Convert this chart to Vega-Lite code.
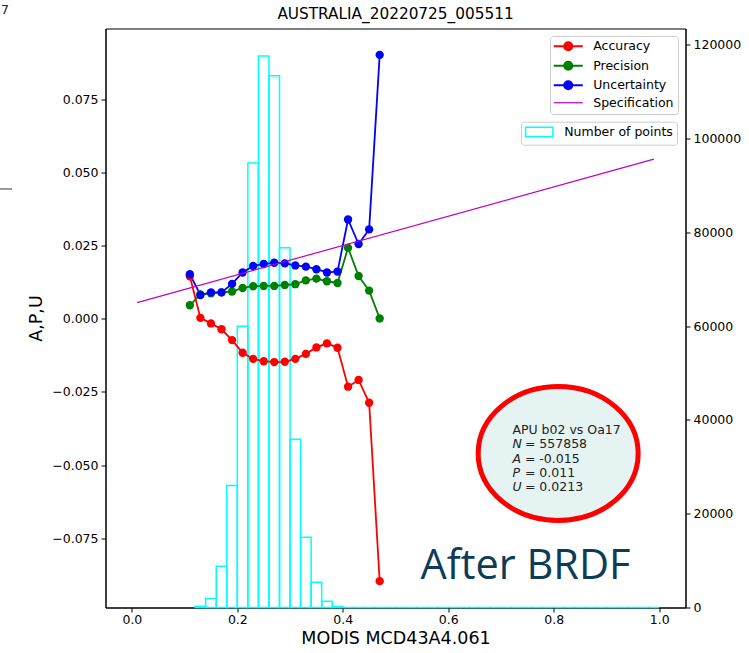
{
  "$schema": "https://vega.github.io/schema/vega-lite/v6.json",
  "width": 580,
  "height": 579,
  "autosize": {"type": "none"},
  "padding": {"left": 105.5, "top": 28.5, "right": 63.5, "bottom": 45.5},
  "background": "white",
  "title": {"text": "AUSTRALIA_20220725_005511", "fontSize": 15.3, "fontWeight": "normal", "font": "DejaVu Sans", "color": "black", "offset": -18, "anchor": "middle"},
  "config": {
    "font": "DejaVu Sans",
    "view": {"stroke": "black", "strokeWidth": 1},
    "axis": {"grid": false, "labelFontSize": 12.5, "labelColor": "black", "tickColor": "black", "domainColor": "black", "tickSize": 4.5, "labelPadding": 3, "titleFontSize": 17.5, "titleFontWeight": "normal", "titleColor": "black", "labelFont": "DejaVu Sans", "titleFont": "DejaVu Sans", "labelFlush": false, "labelOverlap": false},
    "legend": {"labelFontSize": 12.5, "labelFont": "DejaVu Sans", "labelColor": "black", "padding": 4, "fillColor": "white", "strokeColor": "#cccccc", "cornerRadius": 3, "rowPadding": 2.5, "labelOffset": 18.7, "symbolOffset": 8}
  },
  "datasets": {
    "series": [
      {"x": 0.11, "series": "Accuracy", "v": 0.0145},
      {"x": 0.13, "series": "Accuracy", "v": 0.0003},
      {"x": 0.15, "series": "Accuracy", "v": -0.0016},
      {"x": 0.17, "series": "Accuracy", "v": -0.0036},
      {"x": 0.19, "series": "Accuracy", "v": -0.0073},
      {"x": 0.21, "series": "Accuracy", "v": -0.0116},
      {"x": 0.23, "series": "Accuracy", "v": -0.0137},
      {"x": 0.25, "series": "Accuracy", "v": -0.0145},
      {"x": 0.27, "series": "Accuracy", "v": -0.0148},
      {"x": 0.29, "series": "Accuracy", "v": -0.0147},
      {"x": 0.31, "series": "Accuracy", "v": -0.0137},
      {"x": 0.33, "series": "Accuracy", "v": -0.0120},
      {"x": 0.35, "series": "Accuracy", "v": -0.0098},
      {"x": 0.37, "series": "Accuracy", "v": -0.0084},
      {"x": 0.39, "series": "Accuracy", "v": -0.0099},
      {"x": 0.41, "series": "Accuracy", "v": -0.0232},
      {"x": 0.43, "series": "Accuracy", "v": -0.0209},
      {"x": 0.45, "series": "Accuracy", "v": -0.0287},
      {"x": 0.47, "series": "Accuracy", "v": -0.0896},
      {"x": 0.11, "series": "Precision", "v": 0.0046},
      {"x": 0.13, "series": "Precision", "v": 0.0083},
      {"x": 0.15, "series": "Precision", "v": 0.0087},
      {"x": 0.17, "series": "Precision", "v": 0.0090},
      {"x": 0.19, "series": "Precision", "v": 0.0093},
      {"x": 0.21, "series": "Precision", "v": 0.0105},
      {"x": 0.23, "series": "Precision", "v": 0.0111},
      {"x": 0.25, "series": "Precision", "v": 0.0112},
      {"x": 0.27, "series": "Precision", "v": 0.0112},
      {"x": 0.29, "series": "Precision", "v": 0.0115},
      {"x": 0.31, "series": "Precision", "v": 0.0118},
      {"x": 0.33, "series": "Precision", "v": 0.0131},
      {"x": 0.35, "series": "Precision", "v": 0.0137},
      {"x": 0.37, "series": "Precision", "v": 0.0128},
      {"x": 0.39, "series": "Precision", "v": 0.0122},
      {"x": 0.41, "series": "Precision", "v": 0.0242},
      {"x": 0.43, "series": "Precision", "v": 0.0146},
      {"x": 0.45, "series": "Precision", "v": 0.0096},
      {"x": 0.47, "series": "Precision", "v": 0.0001},
      {"x": 0.11, "series": "Uncertainty", "v": 0.0152},
      {"x": 0.13, "series": "Uncertainty", "v": 0.0081},
      {"x": 0.15, "series": "Uncertainty", "v": 0.0090},
      {"x": 0.17, "series": "Uncertainty", "v": 0.0090},
      {"x": 0.19, "series": "Uncertainty", "v": 0.0119},
      {"x": 0.21, "series": "Uncertainty", "v": 0.0158},
      {"x": 0.23, "series": "Uncertainty", "v": 0.0180},
      {"x": 0.25, "series": "Uncertainty", "v": 0.0187},
      {"x": 0.27, "series": "Uncertainty", "v": 0.0191},
      {"x": 0.29, "series": "Uncertainty", "v": 0.0189},
      {"x": 0.31, "series": "Uncertainty", "v": 0.0182},
      {"x": 0.33, "series": "Uncertainty", "v": 0.0178},
      {"x": 0.35, "series": "Uncertainty", "v": 0.0169},
      {"x": 0.37, "series": "Uncertainty", "v": 0.0158},
      {"x": 0.39, "series": "Uncertainty", "v": 0.0161},
      {"x": 0.41, "series": "Uncertainty", "v": 0.0339},
      {"x": 0.43, "series": "Uncertainty", "v": 0.0255},
      {"x": 0.45, "series": "Uncertainty", "v": 0.0305},
      {"x": 0.47, "series": "Uncertainty", "v": 0.0901}
    ],
    "spec": [
      {"x": 0.01, "v": 0.0055},
      {"x": 0.99, "v": 0.0545}
    ],
    "hist": [
      {"x": 0.12, "x2": 0.14, "count": 250},
      {"x": 0.14, "x2": 0.16, "count": 1900},
      {"x": 0.16, "x2": 0.18, "count": 8800},
      {"x": 0.18, "x2": 0.20, "count": 26000},
      {"x": 0.20, "x2": 0.22, "count": 60000},
      {"x": 0.22, "x2": 0.24, "count": 94800},
      {"x": 0.24, "x2": 0.26, "count": 117600},
      {"x": 0.26, "x2": 0.28, "count": 113400},
      {"x": 0.28, "x2": 0.30, "count": 76700},
      {"x": 0.30, "x2": 0.32, "count": 35900},
      {"x": 0.32, "x2": 0.34, "count": 15000},
      {"x": 0.34, "x2": 0.36, "count": 5400},
      {"x": 0.36, "x2": 0.38, "count": 1350},
      {"x": 0.38, "x2": 0.40, "count": 200},
      {"x": 0.40, "x2": 0.42, "count": 0},
      {"x": 0.42, "x2": 0.44, "count": 0},
      {"x": 0.44, "x2": 0.46, "count": 0},
      {"x": 0.46, "x2": 0.48, "count": 0},
      {"x": 0.48, "x2": 0.50, "count": 0},
      {"x": 0.50, "x2": 0.52, "count": 0},
      {"x": 0.52, "x2": 0.54, "count": 0},
      {"x": 0.54, "x2": 0.56, "count": 0},
      {"x": 0.56, "x2": 0.58, "count": 0},
      {"x": 0.58, "x2": 0.60, "count": 0},
      {"x": 0.60, "x2": 0.62, "count": 0},
      {"x": 0.62, "x2": 0.64, "count": 0},
      {"x": 0.64, "x2": 0.66, "count": 0},
      {"x": 0.66, "x2": 0.68, "count": 0},
      {"x": 0.68, "x2": 0.70, "count": 0},
      {"x": 0.70, "x2": 0.72, "count": 0},
      {"x": 0.72, "x2": 0.74, "count": 0},
      {"x": 0.74, "x2": 0.76, "count": 0},
      {"x": 0.76, "x2": 0.78, "count": 0},
      {"x": 0.78, "x2": 0.80, "count": 0},
      {"x": 0.80, "x2": 0.82, "count": 0},
      {"x": 0.82, "x2": 0.84, "count": 0},
      {"x": 0.84, "x2": 0.86, "count": 0},
      {"x": 0.86, "x2": 0.88, "count": 0},
      {"x": 0.88, "x2": 0.90, "count": 0},
      {"x": 0.90, "x2": 0.92, "count": 0},
      {"x": 0.92, "x2": 0.94, "count": 0},
      {"x": 0.94, "x2": 0.96, "count": 0},
      {"x": 0.96, "x2": 0.98, "count": 0},
      {"x": 0.98, "x2": 1.00, "count": 0}
    ],
    "ellipse": [{"x": 0.8085, "v": -0.046}],
    "note": [{"x": 0.7217, "v": -0.0380}],
    "brdf": [{"x": 0.5473, "v": -0.0887}],
    "corner": [{"x": -0.2332, "v": 0.1054}],
    "tick": [{"x": -0.2502, "x2": -0.2275, "v": 0.0443}]
  },
  "encoding": {
    "x": {
      "field": "x", "type": "quantitative",
      "scale": {"domain": [-0.05, 1.05], "nice": false, "zero": false},
      "axis": {"title": "MODIS MCD43A4.061", "values": [0, 0.2, 0.4, 0.6, 0.8, 1.0], "format": ".1f", "labelPadding": 1.5, "titlePadding": 3}
    }
  },
  "layer": [
    {
      "data": {"name": "hist"},
      "mark": {"type": "bar", "fill": "transparent", "strokeWidth": 1.5},
      "encoding": {
        "x2": {"field": "x2"},
        "y": {
          "field": "count", "type": "quantitative",
          "scale": {"domain": [0, 123480], "nice": false},
          "axis": {"orient": "right", "title": null, "values": [0, 20000, 40000, 60000, 80000, 100000, 120000], "format": "d"}
        },
        "y2": {"datum": 0},
        "stroke": {
          "datum": "Number of points",
          "scale": {"domain": ["Number of points"], "range": ["#00ffff"]},
          "legend": {
            "orient": "none", "legendX": 415.5, "legendY": 93.2, "title": null,
            "symbolType": "M-2.73,-0.96H2.73V0.96H-2.73Z", "symbolSize": 100, "symbolStrokeWidth": 1.5, "symbolFillColor": "transparent",
            "encode": {"symbols": {"update": {"fill": {"value": "transparent"}, "fillOpacity": {"value": 0}, "stroke": {"value": "#00ffff"}, "opacity": {"value": 1}}}}
          }
        }
      }
    },
    {
      "encoding": {
        "y": {
          "field": "v", "type": "quantitative",
          "scale": {"domain": [-0.0986, 0.0991], "nice": false, "zero": false},
          "axis": {"orient": "left", "title": "A,P,U", "values": [-0.075, -0.05, -0.025, 0, 0.025, 0.05, 0.075], "format": ".3f", "titlePadding": 6}
        }
      },
      "layer": [
        {
          "data": {"name": "series"},
          "mark": {"type": "line", "strokeWidth": 1.8, "point": {"filled": true, "size": 70, "opacity": 1}},
          "encoding": {
            "color": {
              "field": "series", "type": "nominal",
              "scale": {"domain": ["Accuracy", "Precision", "Uncertainty", "Specification"], "range": ["#ff0000", "#008000", "#0000ff", "#bf00bf"]},
              "legend": {
                "orient": "none", "legendX": 444.5, "legendY": 7.5, "title": null,
                "symbolSize": 100, "symbolStrokeWidth": 2,
                "encode": {"symbols": {"update": {
                  "shape": {"signal": "datum.value === 'Specification' ? 'M-2.9,0H2.9' : 'M-2.9,0H2.9M0.8,0A0.8,0.8,0,1,1,-0.8,0A0.8,0.8,0,1,1,0.8,0Z'"},
                  "fill": {"signal": "datum.value === 'Specification' ? 'transparent' : scale('color', datum.value)"},
                  "stroke": {"signal": "scale('color', datum.value)"},
                  "strokeWidth": {"signal": "datum.value === 'Specification' ? 1.2 : 2"},
                  "opacity": {"value": 1}
                }}}
              }
            }
          }
        },
        {
          "data": {"name": "spec"},
          "mark": {"type": "line", "strokeWidth": 1.2},
          "encoding": {"color": {"datum": "Specification"}}
        },
        {
          "data": {"name": "ellipse"},
          "mark": {"type": "point", "shape": "M-1,0A1,0.8375,0,1,1,1,0A1,0.8375,0,1,1,-1,0Z", "size": 25600, "filled": true, "fill": "#e5f4f3", "stroke": "#ff0000", "strokeWidth": 5, "opacity": 1, "fillOpacity": 1, "strokeOpacity": 1},
          "encoding": {}
        },
        {
          "data": {"name": "note"},
          "mark": {"type": "text", "text": ["APU b02 vs Oa17", "", "", "", ""], "align": "left", "baseline": "middle", "fontSize": 12.5, "lineHeight": 14.3, "color": "#222222", "font": "DejaVu Sans"},
          "encoding": {}
        },
        {
          "data": {"name": "note"},
          "mark": {"type": "text", "text": ["", "N", "A", "P", "U"], "align": "left", "baseline": "middle", "fontSize": 12.5, "lineHeight": 14.3, "fontStyle": "italic", "color": "#222222", "font": "DejaVu Sans"},
          "encoding": {}
        },
        {
          "data": {"name": "note"},
          "mark": {"type": "text", "text": ["", "\u00a0= 557858", "\u00a0\u00a0= -0.015", "\u00a0= 0.011", "\u00a0= 0.0213"], "align": "left", "baseline": "middle", "dx": 12.5, "fontSize": 12.5, "lineHeight": 14.3, "color": "#222222", "font": "DejaVu Sans"},
          "encoding": {}
        },
        {
          "data": {"name": "brdf"},
          "mark": {"type": "text", "text": "After BRDF", "align": "left", "baseline": "alphabetic", "fontSize": 41.5, "font": "Open Sans", "color": "#0e3b56"},
          "encoding": {}
        },
        {
          "data": {"name": "corner"},
          "mark": {"type": "text", "text": ".7", "align": "right", "baseline": "middle", "fontSize": 12.5, "color": "#222222", "font": "DejaVu Sans"},
          "encoding": {}
        },
        {
          "data": {"name": "tick"},
          "mark": {"type": "rule", "color": "#333333", "strokeWidth": 1},
          "encoding": {"x2": {"field": "x2"}}
        }
      ]
    }
  ],
  "resolve": {"scale": {"y": "independent"}}
}
